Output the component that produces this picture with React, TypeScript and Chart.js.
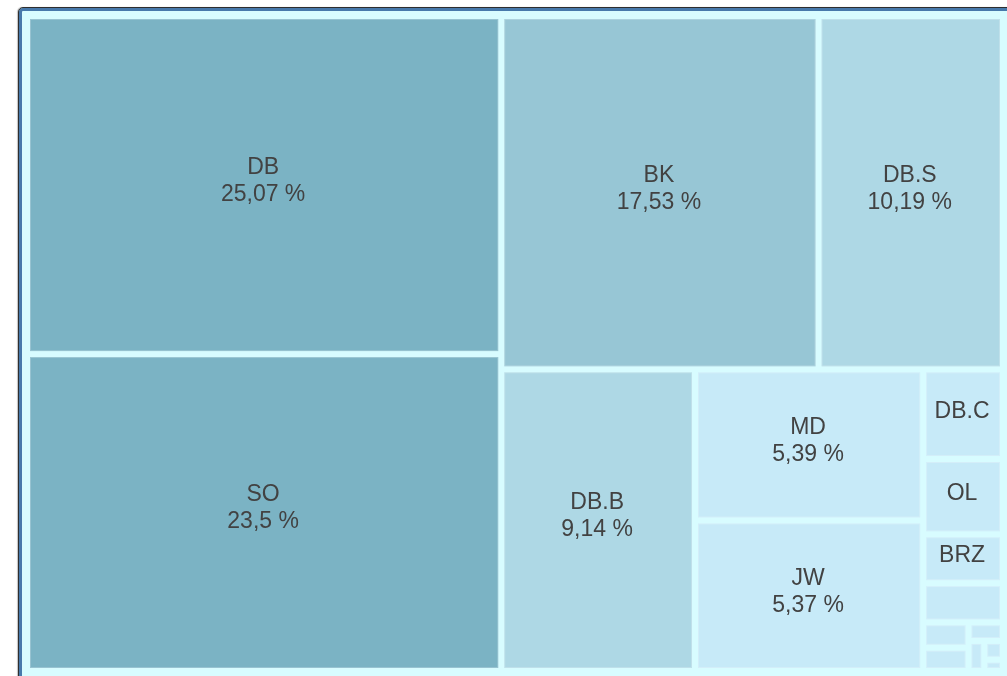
import React, { useEffect, useRef } from "react";
import { Chart, registerables } from "chart.js";

Chart.register(...registerables);

// ---- data ----
const categories = [
  "DB", "SO", "BK", "DB.S", "DB.B", "MD", "JW", "DB.C", "OL", "BRZ",
  "ST", "KR", "VD", "LA", "HZ", "PK", "FR",
];
const shares = [
  25.07, 23.5, 17.53, 10.19, 9.14, 5.39, 5.37, 1.12, 0.94, 0.61,
  0.49, 0.18, 0.165, 0.1, 0.074, 0.055, 0.033,
];

// ---- styles ----
const FONT = '23px "Liberation Sans", Arial, sans-serif';
const TEXT_COLOR = "#424242";
const GAP = 3;
const LINE_H = 27;

function colorFor(v: number): string {
  if (v > 20) return "#7bb3c4";
  if (v > 15) return "#97c6d5";
  if (v > 8) return "#aed8e5";
  return "#c7eaf8";
}

function fmt(v: number): string {
  return String(v).replace(".", ",") + " %";
}

type Rect = { x: number; y: number; w: number; h: number };

function worst(row: number[], side: number): number {
  const s = row.reduce((a, b) => a + b, 0);
  const max = Math.max(...row);
  const min = Math.min(...row);
  return Math.max((side * side * max) / (s * s), (s * s) / (side * side * min));
}

function squarify(areas: number[], rect: Rect): Rect[] {
  const out: Rect[] = [];
  let r = { ...rect };
  let i = 0;
  while (i < areas.length) {
    const side = Math.min(r.w, r.h);
    let row = [areas[i]];
    let j = i + 1;
    while (j < areas.length) {
      const next = [...row, areas[j]];
      if (worst(next, side) <= worst(row, side)) {
        row = next;
        j++;
      } else break;
    }
    const s = row.reduce((a, b) => a + b, 0);
    if (r.w >= r.h) {
      const cw = s / r.h;
      let yy = r.y;
      for (const a of row) {
        const ch = a / cw;
        out.push({ x: r.x, y: yy, w: cw, h: ch });
        yy += ch;
      }
      r = { x: r.x + cw, y: r.y, w: r.w - cw, h: r.h };
    } else {
      const ch = s / r.w;
      let xx = r.x;
      for (const a of row) {
        const cw = a / ch;
        out.push({ x: xx, y: r.y, w: cw, h: ch });
        xx += cw;
      }
      r = { x: r.x, y: r.y + ch, w: r.w, h: r.h - ch };
    }
    i = j;
  }
  return out;
}

const treemapPlugin = {
  id: "treemapCells",
  afterDatasetsDraw(chart: any) {
    const { ctx, chartArea, scales } = chart;
    const W = chartArea.right - chartArea.left;
    const H = chartArea.bottom - chartArea.top;
    const total = shares.reduce((a, b) => a + b, 0);
    const areas = shares.map((v) => (v / total) * W * H);
    // layout in the chart area's aspect, then normalise to data units (0..1)
    const rects = squarify(areas, { x: 0, y: 0, w: W, h: H }).map((r) => ({
      x0: r.x / W,
      y0: r.y / H,
      x1: (r.x + r.w) / W,
      y1: (r.y + r.h) / H,
    }));
    const xs = scales.x;
    const ys = scales.y;
    ctx.save();
    rects.forEach((r, i) => {
      const px0 = xs.getPixelForValue(r.x0);
      const px1 = xs.getPixelForValue(r.x1);
      const py0 = ys.getPixelForValue(r.y0);
      const py1 = ys.getPixelForValue(r.y1);
      const x = Math.min(px0, px1) + GAP;
      const y = Math.min(py0, py1) + GAP;
      const w = Math.abs(px1 - px0) - 2 * GAP;
      const h = Math.abs(py1 - py0) - 2 * GAP;
      if (w <= 0 || h <= 0) return;
      ctx.fillStyle = colorFor(shares[i]);
      ctx.fillRect(x, y, w, h);
      ctx.strokeStyle = "rgba(255,255,255,0.22)";
      ctx.lineWidth = 1;
      ctx.strokeRect(x + 0.5, y + 0.5, w - 1, h - 1);

      ctx.font = FONT;
      ctx.fillStyle = TEXT_COLOR;
      ctx.textAlign = "center";
      ctx.textBaseline = "middle";
      const name = categories[i];
      const val = fmt(shares[i]);
      const nameW = ctx.measureText(name).width;
      const valW = ctx.measureText(val).width;
      const pad = 5;
      const cx = x + w / 2 - 1;
      const cy = y + h / 2 - 4;
      if (h >= 2 * LINE_H + 10 && Math.max(nameW, valW) + 2 * pad <= w) {
        ctx.fillText(name, cx, cy - LINE_H / 2);
        ctx.fillText(val, cx, cy + LINE_H / 2);
      } else if (h >= LINE_H + 10 && nameW + 2 * pad <= w) {
        ctx.fillText(name, cx, y + h / 2 - 3);
      }
    });
    ctx.restore();
  },
};

export default function App() {
  const ref = useRef<HTMLCanvasElement | null>(null);

  useEffect(() => {
    if (!ref.current) return;
    const chart = new Chart(ref.current, {
      type: "scatter",
      data: {
        datasets: [
          {
            label: "Anteil",
            data: [],
            pointRadius: 0,
          },
        ],
      },
      options: {
        animation: false,
        responsive: false,
        layout: { padding: { left: 27, top: 16, right: 4, bottom: 5 } },
        plugins: {
          legend: { display: false },
          tooltip: { enabled: false },
        },
        scales: {
          x: { type: "linear", min: 0, max: 1, display: false },
          y: { type: "linear", min: 0, max: 1, reverse: true, display: false },
        },
      },
      plugins: [treemapPlugin],
    });
    return () => chart.destroy();
  }, []);

  return (
    <div
      style={{
        position: "absolute",
        left: 0,
        top: 0,
        width: 1007,
        height: 676,
        overflow: "hidden",
        background: "#ffffff",
      }}
    >
      <div
        style={{
          position: "absolute",
          left: 18,
          top: 7,
          width: 1000,
          height: 700,
          border: "1px solid #2e2e2e",
          borderRadius: 5,
          background: "#d8fcff",
          boxShadow: "inset 0 0 0 3px #4779ab, -1px 0 1px rgba(0,0,0,0.25)",
        }}
      />
      <canvas
        ref={ref}
        width={1007}
        height={676}
        style={{ position: "absolute", left: 0, top: 0, width: 1007, height: 676 }}
      />
    </div>
  );
}
